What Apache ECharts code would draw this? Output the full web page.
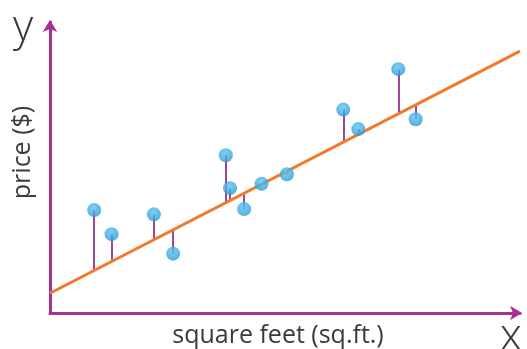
<!DOCTYPE html>
<html>
<head>
<meta charset="utf-8">
<script src="https://cdn.jsdelivr.net/npm/echarts@6/dist/echarts.min.js"></script>
<style>
  html, body { margin: 0; padding: 0; background: #fff; }
  #chart { width: 527px; height: 349px; }
</style>
</head>
<body>
<div id="chart"></div>
<script>
// Observed houses: size vs. price (unitless scale 0–100)
const sqFeet = [9.4, 13.1, 22.1, 26.2, 37.4, 38.3, 41.3, 45.0, 50.4, 62.4, 65.6, 74.1, 77.8];
const price  = [35.4, 27.1, 33.9, 20.4, 54.2, 42.9, 35.7, 44.4, 47.7, 69.9, 63.2, 83.8, 66.6];

// Fitted regression line, given by its two end points
const fitX = [0, 100];
const fitY = [6.8, 90];

const xName = 'square feet (sq.ft.)';
const yName = 'price ($)';
const xLetter = 'x';
const yLetter = 'y';

const slope = (fitY[1] - fitY[0]) / (fitX[1] - fitX[0]);
const fitAt = x => fitY[0] + slope * (x - fitX[0]);

const axisColor = '#a8308f';
const textColor = '#3a3a3a';
const font = '"Open Sans", Lato, sans-serif';

// residual segments: from each observation to the fitted line
const residuals = sqFeet.map((x, i) => ({
  coords: [[x, price[i]], [x, fitAt(x)]]
}));

const chart = echarts.init(document.getElementById('chart'), null, { renderer: 'canvas' });

chart.setOption({
  animation: false,
  backgroundColor: '#ffffff',
  grid: { left: 50, right: 7, top: 22, bottom: 36, containLabel: false, outerBoundsMode: 'none' },
  xAxis: {
    type: 'value', min: 0, max: 100,
    name: xName, nameLocation: 'middle', nameGap: 10,
    nameTextStyle: { fontFamily: font, fontSize: 25, color: textColor, padding: [0, 14, 0, 0] },
    axisLine: {
      show: true, onZero: false,
      symbol: ['none', 'arrow'], symbolSize: [11, 12], symbolOffset: [0, 2],
      lineStyle: { color: axisColor, width: 3 }
    },
    axisTick: { show: false }, axisLabel: { show: false }, splitLine: { show: false }
  },
  yAxis: {
    type: 'value', min: 0, max: 100,
    name: yName, nameLocation: 'middle', nameGap: 15, nameRotate: 90,
    nameTextStyle: { fontFamily: font, fontSize: 25, color: textColor, padding: [0, 0, 0, 30] },
    axisLine: {
      show: true, onZero: false,
      symbol: ['none', 'arrow'], symbolSize: [11, 12], symbolOffset: [0, 2],
      lineStyle: { color: axisColor, width: 3 }
    },
    axisTick: { show: false }, axisLabel: { show: false }, splitLine: { show: false }
  },
  graphic: [
    { type: 'text', left: 13, top: 6,
      style: { text: yLetter, font: '300 44px ' + font, fill: textColor } },
    { type: 'text', left: 500, top: 315,
      style: { text: xLetter, font: '300 44px ' + font, fill: textColor } }
  ],
  series: [
    {
      type: 'lines', coordinateSystem: 'cartesian2d', z: 2,
      lineStyle: { color: '#a0469a', width: 2, opacity: 1 },
      data: residuals
    },
    {
      type: 'line', z: 3, symbol: 'none',
      lineStyle: { color: '#f07a2a', width: 3 },
      data: fitX.map((x, i) => [x, fitY[i]])
    },
    {
      type: 'scatter', z: 4, symbolSize: 14,
      itemStyle: {
        color: {
          type: 'radial', x: 0.45, y: 0.35, r: 0.7,
          colorStops: [
            { offset: 0, color: '#5cc4f0' },
            { offset: 0.7, color: '#35a6de' },
            { offset: 1, color: '#2a8fc4' }
          ]
        }
      },
      data: sqFeet.map((x, i) => [x, price[i]])
    }
  ]
});
</script>
</body>
</html>
